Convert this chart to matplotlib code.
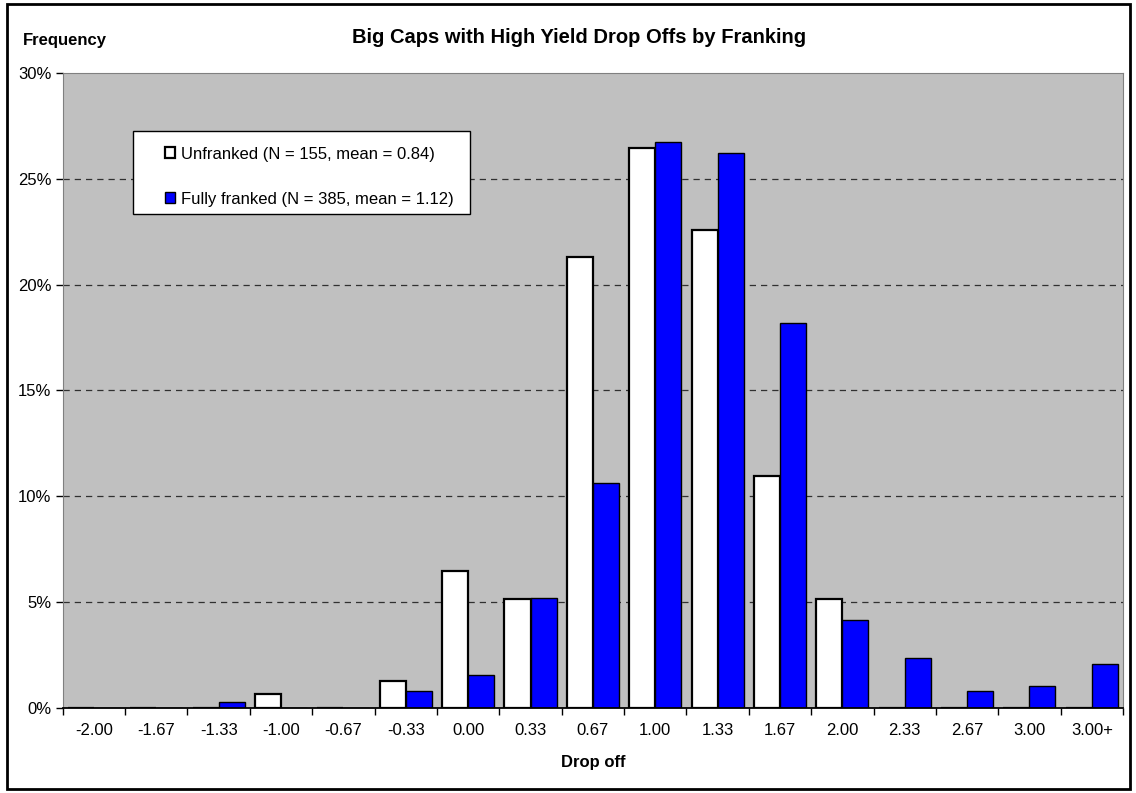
import numpy as np
import matplotlib.pyplot as plt
from matplotlib.patches import Rectangle

plt.rcParams['font.family'] = ['Liberation Sans', 'DejaVu Sans']

# categorias de "drop off" y frecuencias (%)
categorias = ['-2.00', '-1.67', '-1.33', '-1.00', '-0.67', '-0.33', '0.00', '0.33',
              '0.67', '1.00', '1.33', '1.67', '2.00', '2.33', '2.67', '3.00', '3.00+']
unfranked = [0, 0, 0, 0.65, 0, 1.29, 6.45, 5.16, 21.29, 26.45, 22.58, 10.97, 5.16,
             0, 0, 0, 0]
fully_franked = [0, 0, 0.26, 0, 0, 0.78, 1.56, 5.19, 10.65, 26.75, 26.23, 18.18, 4.16,
                 2.34, 0.78, 1.04, 2.08]

fig = plt.figure(figsize=(11.36, 7.93), dpi=100)
ax = fig.add_axes([0.0552, 0.1072, 0.9334, 0.8008])
ax.set_facecolor('#C0C0C0')

x = np.arange(len(categorias))
ancho = 0.417
ax.bar(x - ancho / 2, unfranked, ancho, color='white', edgecolor='black', linewidth=1.6,
       label='Unfranked (N = 155, mean = 0.84)', zorder=3)
ax.bar(x + ancho / 2, fully_franked, ancho, color='#0000FF', edgecolor='black', linewidth=1.0,
       label='Fully franked (N = 385, mean = 1.12)', zorder=3)

ax.set_xlim(-0.5, len(categorias) - 0.5)
ax.set_ylim(0, 30)
ax.set_yticks(range(0, 31, 5))
ax.set_yticklabels([f'{v}%' for v in range(0, 31, 5)], fontsize=12)
ax.set_xticks(x)
ax.set_xticklabels(categorias, fontsize=12)
ax.tick_params(axis='x', length=0, pad=11)
ax.set_xticks(np.arange(-0.5, len(categorias) + 0.5, 1), minor=True)
ax.tick_params(axis='x', which='minor', length=5, direction='out', width=1, color='black')
ax.tick_params(axis='y', length=5, direction='out', width=1, color='black', pad=3)

for y in range(5, 30, 5):
    ax.axhline(y, color='#303030', linestyle=(0, (5, 4)), linewidth=0.9, zorder=1)

for lado in ['top', 'right', 'left']:
    ax.spines[lado].set_color('#808080')
ax.spines['bottom'].set_color('black')
ax.spines['bottom'].set_linewidth(1.3)
ax.spines['bottom'].set_zorder(4)

# caja de la leyenda dibujada a mano
ax.add_patch(Rectangle((0.0663, 0.778), 0.318, 0.1307, transform=ax.transAxes,
                       facecolor='white', edgecolor='black', linewidth=1.0, zorder=5))
leg = ax.legend(loc='upper left', bbox_to_anchor=(0.0965, 0.884), fontsize=12,
                handlelength=0.6, handleheight=0.6, handletextpad=0.35,
                labelspacing=1.8, borderpad=0, borderaxespad=0, frameon=False)
leg.set_zorder(6)

fig.text(0.510, 0.953, 'Big Caps with High Yield Drop Offs by Franking', ha='center',
         va='center', fontsize=14.5, fontweight='bold')
fig.text(0.020, 0.949, 'Frequency', ha='left', va='center', fontsize=12, fontweight='bold')
fig.text(0.522, 0.039, 'Drop off', ha='center', va='center', fontsize=12, fontweight='bold')

# borde negro alrededor de toda la figura
fig.patches.append(Rectangle((0.006, 0.005), 0.989, 0.99, transform=fig.transFigure,
                             fill=False, edgecolor='black', linewidth=2))

fig.savefig('out.png', dpi=100)
